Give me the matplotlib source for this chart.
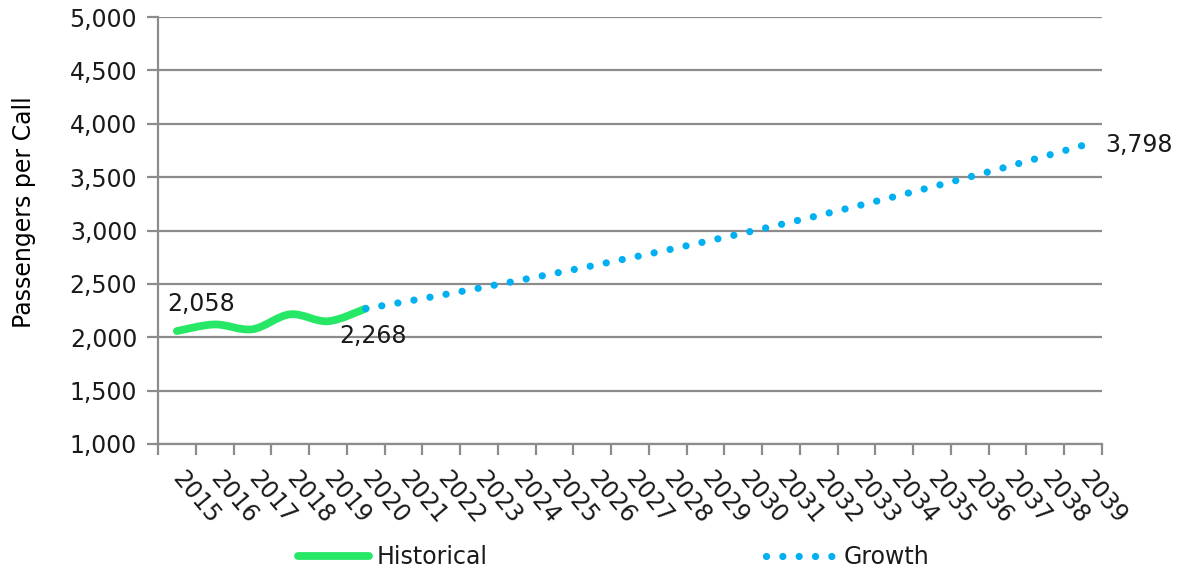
import matplotlib
matplotlib.use("Agg")
import matplotlib.pyplot as plt
from matplotlib.path import Path
from matplotlib.patches import PathPatch
from matplotlib.lines import Line2D
from matplotlib.ticker import FuncFormatter, MultipleLocator
import numpy as np

years = [str(y) for y in range(2015, 2040)]
hist_years = ["2015", "2016", "2017", "2018", "2019", "2020"]
hist_values = [2058, 2120, 2075, 2215, 2150, 2268]
growth_years = ["2020", "2021", "2022", "2023", "2024", "2025", "2026", "2027",
                "2028", "2029", "2030", "2031", "2032", "2033", "2034", "2035",
                "2036", "2037", "2038", "2039"]
growth_values = [2268, 2330, 2394, 2460, 2528, 2598, 2669, 2743, 2818, 2896,
                 2975, 3057, 3141, 3228, 3317, 3408, 3502, 3598, 3697, 3798]

GREEN = "#27E866"
BLUE = "#00B0F0"
GRID = "#8C8C8C"
TXT = "#1a1a1a"
FS = 17
plt.rcParams["font.family"] = ["DejaVu Sans"]
plt.rcParams["text.color"] = TXT


def smooth_path(xs, ys, t=1 / 6):
    # Excel-style smoothed line as cubic bezier segments
    verts = [(xs[0], ys[0])]
    codes = [Path.MOVETO]
    n = len(xs)
    for i in range(n - 1):
        x0, y0 = (xs[i - 1], ys[i - 1]) if i > 0 else (xs[i], ys[i])
        x1, y1 = xs[i], ys[i]
        x2, y2 = xs[i + 1], ys[i + 1]
        x3, y3 = (xs[i + 2], ys[i + 2]) if i + 2 < n else (x2, y2)
        c1 = (x1 + (x2 - x0) * t, y1 + (y2 - y0) * t)
        c2 = (x2 - (x3 - x1) * t, y2 - (y3 - y1) * t)
        verts += [c1, c2, (x2, y2)]
        codes += [Path.CURVE4] * 3
    return Path(verts, codes)


fig = plt.figure(figsize=(11.8, 5.73), dpi=100)
ax = fig.add_axes([158 / 1180, 1 - 444 / 573, (1102 - 158) / 1180, (444 - 17) / 573])

xpos = {y: i for i, y in enumerate(years)}
hx = [xpos[y] for y in hist_years]
gx = [xpos[y] for y in growth_years]

ax.add_patch(PathPatch(smooth_path(hx, hist_values), fill=False, edgecolor=GREEN,
                       lw=5.6, capstyle="round", joinstyle="round", zorder=3))
ax.plot(gx, growth_values, color=BLUE, lw=5.2, linestyle=(0, (0.01, 2.25)),
        dash_capstyle="round", zorder=4)

ax.set_xlim(-0.5, len(years) - 0.5)
ax.set_ylim(1000, 5000)
ax.yaxis.set_major_locator(MultipleLocator(500))
ax.yaxis.set_major_formatter(FuncFormatter(lambda v, p: f"{int(v):,}"))
ax.grid(axis="y", color=GRID, lw=1.6)
ax.set_axisbelow(True)

ax.set_xticks(range(len(years)))
ax.set_xticklabels(years, rotation=-50, ha="left", va="center",
                   rotation_mode="anchor")
ax.set_xticks(np.arange(-0.5, len(years)), minor=True)
ax.tick_params(axis="x", which="major", length=0, pad=22, labelsize=FS,
               labelcolor=TXT)
ax.tick_params(axis="x", which="minor", length=8, width=1.6, color=GRID)
ax.tick_params(axis="y", length=8, width=1.6, color=GRID, labelsize=FS, pad=7,
               labelcolor=TXT)

for s in ["top", "right"]:
    ax.spines[s].set_visible(False)
for s in ["left", "bottom"]:
    ax.spines[s].set_color(GRID)
    ax.spines[s].set_linewidth(1.6)

ax.set_ylabel("Passengers per Call", fontsize=FS)
ax.yaxis.set_label_coords(-0.129, 0.543)

ax.annotate(f"{hist_values[0]:,}", (hx[0], hist_values[0]), xytext=(-7, 11),
            textcoords="offset points", fontsize=FS, ha="left", va="bottom")
ax.annotate(f"{hist_values[-1]:,}", (hx[-1], hist_values[-1]), xytext=(-19, -11),
            textcoords="offset points", fontsize=FS, ha="left", va="top")
ax.annotate(f"{growth_values[-1]:,}", (gx[-1], growth_values[-1]), xytext=(16, 0),
            textcoords="offset points", fontsize=FS, ha="left", va="center",
            annotation_clip=False)

handles = [Line2D([], [], color=GREEN, lw=5.6, solid_capstyle="round"),
           Line2D([], [], color=BLUE, lw=5.2, linestyle=(0, (0.01, 2.25)),
                  dash_capstyle="round")]
fig.legend(handles, ["Historical", "Growth"], loc="center", ncol=2,
           bbox_to_anchor=(614 / 1180, 1 - 557 / 573), frameon=False,
           fontsize=FS, handlelength=3.0, handletextpad=0.3, columnspacing=11.8)

fig.savefig("out.png", dpi=100)
